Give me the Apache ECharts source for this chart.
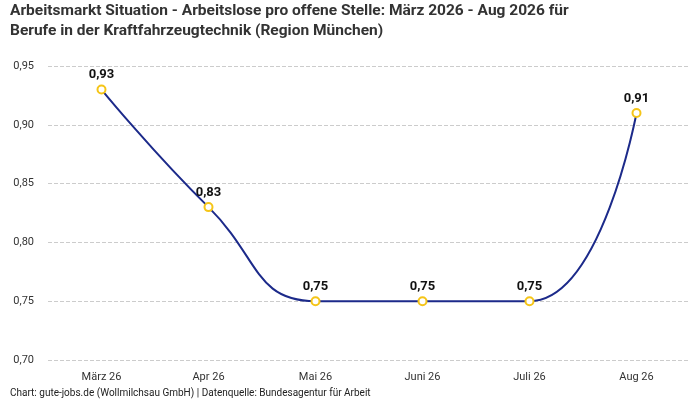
<!DOCTYPE html>
<html><head><meta charset="utf-8">
<script src="https://cdn.jsdelivr.net/npm/echarts@6/dist/echarts.min.js"></script>
<style>html,body{margin:0;padding:0;background:#fff}#c{width:700px;height:400px}</style>
</head><body><div id="c"></div>
<script>
const categories = ["März 26","Apr 26","Mai 26","Juni 26","Juli 26","Aug 26"];
const values = [0.93,0.83,0.75,0.75,0.75,0.91];
const titleText = "Arbeitsmarkt Situation - Arbeitslose pro offene Stelle: März 2026 - Aug 2026 für\nBerufe in der Kraftfahrzeugtechnik (Region München)";
const footerText = "Chart: gute-jobs.de (Wollmilchsau GmbH) | Datenquelle: Bundesagentur für Arbeit";
const chart = echarts.init(document.getElementById('c'));
chart.setOption({
  animation:false,
  textStyle:{fontFamily:'Roboto'},
  title:[{text:titleText,left:5,top:-4,textStyle:{fontSize:15.5,fontWeight:'bold',color:'#333',lineHeight:20,fontFamily:'Roboto'}},
         {text:footerText,left:5,top:383,textStyle:{fontSize:10,fontWeight:'normal',color:'#222'}}],
  grid:{left:48,right:10,top:66,bottom:40},
  xAxis:{type:'category',data:categories,boundaryGap:true,
    axisLine:{show:false},axisTick:{show:false},
    axisLabel:{color:'#333',fontSize:11,margin:12}},
  yAxis:{type:'value',min:0.70,max:0.95,interval:0.05,
    axisLabel:{color:'#333',fontSize:11,formatter:v=>v.toFixed(2).replace('.',','),margin:14},
    splitLine:{lineStyle:{type:'dashed',color:'#ccc'}}},
  series:[{type:'line',data:values,smooth:true,
    lineStyle:{color:'#1c2a8a',width:2},
    symbol:'circle',symbolSize:8,
    itemStyle:{color:'#fff',borderColor:'#f5c518',borderWidth:2},
    label:{show:true,position:'top',distance:3,fontSize:13,fontWeight:'bold',color:'#111',
      formatter:p=>p.value.toFixed(2).replace('.',',')}}]
});
</script></body></html>
